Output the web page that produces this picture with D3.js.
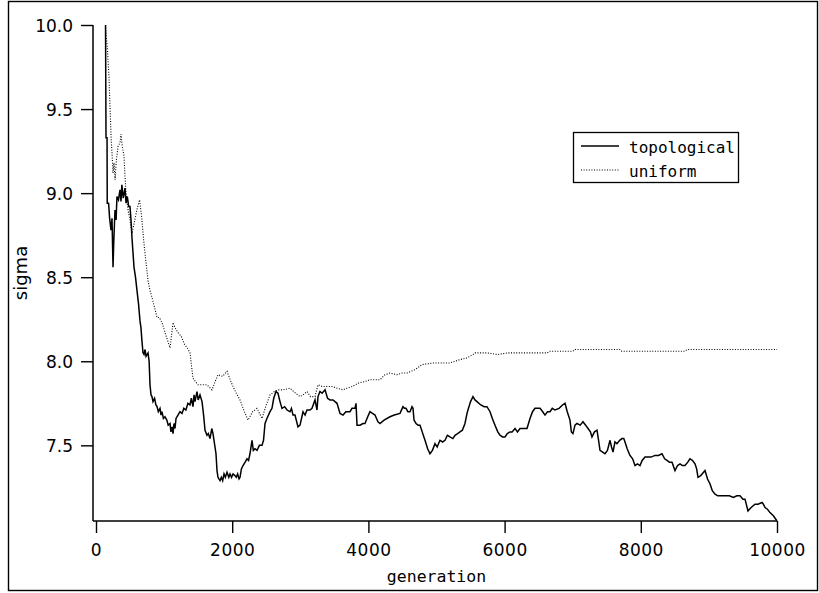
<!DOCTYPE html>
<html>
<head>
<meta charset="utf-8">
<script src="https://cdn.jsdelivr.net/npm/d3@7"></script>
<style>
  html, body { margin: 0; padding: 0; background: #fff; }
  svg { display: block; }
  .tick text { font-family: "DejaVu Sans", sans-serif; font-size: 17px; fill: #000; }
</style>
</head>
<body>
<svg id="chart" width="819" height="593"></svg>
<script>
// sigma over generations, one [generation, sigma] pair per sample
const topological = [
  [140,10.0],[147,9.33],[162,9.33],[165,8.94],[185,8.94],[200,8.85],[220,8.78],[235,8.85],[250,8.56],
  [260,8.70],[279,8.90],[295,8.84],[308,8.98],[330,8.96],[352,9.02],[367,8.95],[380,9.05],[400,8.97],
  [426,9.03],[441,8.94],[460,8.98],[480,8.92],[499,8.92],[514,8.84],[529,8.73],[558,8.56],[580,8.50],
  [602,8.42],[625,8.34],[646,8.24],[660,8.20],[675,8.12],[690,8.05],[705,8.04],[720,8.07],[735,8.03],
  [749,8.04],[764,8.05],[780,8.00],[793,7.86],[808,7.80],[822,7.79],[837,7.76],[860,7.78],[880,7.74],
  [896,7.73],[915,7.70],[940,7.72],[955,7.68],[969,7.70],[990,7.66],[1013,7.67],[1040,7.65],[1060,7.62],
  [1087,7.63],[1100,7.58],[1116,7.61],[1131,7.57],[1145,7.63],[1160,7.60],[1175,7.66],[1204,7.68],
  [1233,7.70],[1263,7.69],[1290,7.72],[1320,7.71],[1350,7.75],[1380,7.74],[1400,7.78],[1424,7.73],
  [1440,7.80],[1454,7.76],[1483,7.82],[1500,7.77],[1527,7.80],[1557,7.76],[1580,7.68],[1601,7.59],
  [1630,7.56],[1650,7.57],[1674,7.54],[1700,7.60],[1718,7.57],[1740,7.51],[1762,7.45],[1777,7.35],
  [1791,7.31],[1821,7.29],[1840,7.31],[1860,7.29],[1880,7.33],[1900,7.31],[1924,7.34],[1950,7.31],
  [1968,7.33],[1990,7.31],[2012,7.33],[2040,7.32],[2060,7.31],[2080,7.33],[2100,7.30],[2115,7.31],
  [2135,7.36],[2159,7.38],[2190,7.40],[2217,7.42],[2240,7.41],[2261,7.45],[2291,7.53],[2310,7.47],
  [2335,7.48],[2364,7.47],[2400,7.50],[2438,7.50],[2460,7.53],[2482,7.63],[2510,7.66],[2555,7.70],
  [2584,7.72],[2610,7.78],[2643,7.82],[2672,7.81],[2702,7.76],[2731,7.72],[2770,7.73],[2805,7.71],
  [2849,7.70],[2870,7.72],[2893,7.68],[2922,7.68],[2966,7.61],[2996,7.62],[3040,7.70],[3070,7.68],
  [3098,7.71],[3142,7.71],[3172,7.72],[3216,7.77],[3245,7.71],[3260,7.79],[3289,7.82],[3320,7.81],
  [3363,7.83],[3400,7.78],[3436,7.77],[3480,7.77],[3539,7.75],[3583,7.69],[3627,7.68],[3670,7.70],
  [3730,7.70],[3759,7.72],[3803,7.72],[3818,7.75],[3833,7.62],[3877,7.62],[3920,7.63],[3950,7.63],
  [3990,7.67],[4023,7.70],[4060,7.69],[4097,7.68],[4140,7.64],[4170,7.63],[4230,7.65],[4317,7.67],
  [4380,7.68],[4464,7.69],[4508,7.73],[4530,7.72],[4552,7.72],[4580,7.70],[4611,7.70],[4640,7.73],
  [4655,7.72],[4670,7.65],[4699,7.63],[4730,7.62],[4758,7.62],[4790,7.58],[4831,7.53],[4870,7.48],
  [4904,7.45],[4940,7.47],[4978,7.51],[5010,7.49],[5051,7.53],[5090,7.52],[5125,7.53],[5160,7.56],
  [5198,7.55],[5240,7.54],[5272,7.56],[5310,7.57],[5345,7.58],[5380,7.59],[5418,7.63],[5448,7.69],
  [5462,7.71],[5500,7.76],[5536,7.79],[5565,7.77],[5595,7.76],[5650,7.74],[5700,7.73],[5741,7.73],
  [5786,7.70],[5820,7.66],[5859,7.62],[5900,7.58],[5932,7.56],[5970,7.55],[6006,7.55],[6040,7.57],
  [6079,7.58],[6110,7.58],[6153,7.60],[6190,7.58],[6226,7.60],[6270,7.60],[6329,7.60],[6373,7.66],
  [6410,7.70],[6446,7.72],[6490,7.72],[6520,7.72],[6560,7.70],[6593,7.68],[6630,7.70],[6667,7.70],
  [6700,7.72],[6740,7.71],[6800,7.72],[6850,7.74],[6887,7.75],[6920,7.70],[6960,7.65],[6980,7.58],
  [7004,7.57],[7034,7.62],[7063,7.63],[7110,7.62],[7151,7.64],[7190,7.62],[7225,7.60],[7260,7.58],
  [7283,7.55],[7320,7.58],[7357,7.59],[7380,7.53],[7401,7.47],[7440,7.46],[7474,7.45],[7510,7.47],
  [7548,7.53],[7570,7.49],[7592,7.46],[7620,7.52],[7650,7.51],[7690,7.53],[7724,7.54],[7750,7.54],
  [7768,7.52],[7800,7.48],[7841,7.44],[7880,7.42],[7915,7.38],[7950,7.39],[7988,7.38],[8020,7.41],
  [8062,7.43],[8100,7.43],[8150,7.43],[8209,7.44],[8260,7.44],[8311,7.45],[8350,7.42],[8385,7.41],
  [8420,7.40],[8458,7.40],[8502,7.35],[8540,7.38],[8576,7.39],[8610,7.38],[8649,7.38],[8690,7.40],
  [8722,7.42],[8760,7.41],[8796,7.39],[8820,7.36],[8840,7.31],[8880,7.32],[8943,7.35],[8980,7.30],
  [9017,7.27],[9050,7.23],[9090,7.21],[9130,7.20],[9180,7.20],[9236,7.20],[9300,7.20],[9360,7.19],
  [9410,7.20],[9457,7.20],[9500,7.18],[9530,7.18],[9574,7.11],[9620,7.13],[9677,7.15],[9720,7.15],
  [9780,7.16],[9800,7.15],[9824,7.13],[9860,7.12],[9897,7.10],[9950,7.08],[10000,7.05]
];

const uniform = [
  [140,10.0],[150,9.93],[165,9.87],[191,9.69],[206,9.51],[225,9.30],[235,9.24],[250,9.12],[265,9.18],
  [280,9.08],[300,9.20],[325,9.28],[352,9.30],[367,9.35],[385,9.28],[411,9.22],[426,9.10],[441,9.00],
  [470,8.90],[499,8.84],[529,8.76],[560,8.82],[600,8.90],[640,8.96],[670,8.86],[700,8.72],[720,8.64],
  [764,8.48],[793,8.42],[822,8.38],[860,8.32],[896,8.26],[930,8.26],[969,8.23],[1030,8.15],[1087,8.08],
  [1131,8.23],[1160,8.20],[1204,8.17],[1250,8.15],[1300,8.10],[1340,8.08],[1380,8.05],[1424,7.90],
  [1460,7.88],[1498,7.86],[1560,7.86],[1630,7.86],[1703,7.83],[1750,7.88],[1791,7.92],[1860,7.91],
  [1924,7.94],[1970,7.89],[2012,7.85],[2060,7.81],[2115,7.77],[2170,7.71],[2232,7.65],[2300,7.70],
  [2364,7.72],[2438,7.66],[2500,7.74],[2555,7.80],[2620,7.82],[2672,7.83],[2750,7.83],[2849,7.84],
  [2930,7.81],[2996,7.79],[3040,7.80],[3098,7.82],[3150,7.79],[3216,7.79],[3260,7.86],[3320,7.85],
  [3400,7.85],[3465,7.85],[3540,7.84],[3627,7.83],[3686,7.84],[3759,7.85],[3850,7.87],[3950,7.88],
  [4023,7.89],[4097,7.89],[4170,7.89],[4244,7.92],[4317,7.93],[4420,7.92],[4500,7.93],[4567,7.93],
  [4684,7.95],[4787,7.98],[4949,7.99],[5100,7.99],[5198,7.99],[5345,8.01],[5448,8.02],[5536,8.04],
  [5565,8.05],[5650,8.05],[5741,8.05],[5900,8.04],[6050,8.05],[6270,8.05],[6490,8.05],[6623,8.05],
  [6667,8.06],[7004,8.06],[7034,8.07],[7694,8.07],[7720,8.06],[8649,8.06],[8680,8.07],[10000,8.07]
];

const xTicks = [0, 2000, 4000, 6000, 8000, 10000];
const yTicks = [7.5, 8.0, 8.5, 9.0, 9.5, 10.0];
const seriesNames = ["topological", "uniform"];

const svg = d3.select("#chart");

// outer frame
svg.append("rect")
  .attr("x", 8.5).attr("y", 1.5).attr("width", 809).attr("height", 589)
  .attr("fill", "none").attr("stroke", "#000").attr("stroke-width", 1.4);

const x = d3.scaleLinear().domain([0, 10000]).range([96, 777]);
const y = d3.scaleLinear().domain([7.05, 10.0]).range([521, 25]);

const axisX = 93; // vertical axis sits a little left of x = 0

// y axis
const gy = svg.append("g").attr("transform", `translate(${axisX},0)`)
  .call(d3.axisLeft(y).tickValues(yTicks).tickFormat(d3.format(".1f"))
    .tickSize(12).tickSizeOuter(0).tickPadding(8));
gy.select(".domain").remove();
gy.selectAll(".tick line").attr("stroke", "#000").attr("stroke-width", 1.4);
gy.selectAll(".tick text").attr("dy", "0.38em");

// x axis
const gx = svg.append("g").attr("transform", `translate(0,${y.range()[0]})`)
  .call(d3.axisBottom(x).tickValues(xTicks).tickFormat(d3.format("d"))
    .tickSize(12).tickSizeOuter(0).tickPadding(11));
gx.select(".domain").remove();
gx.selectAll(".tick line").attr("stroke", "#000").attr("stroke-width", 1.4);
gx.selectAll(".tick text").attr("dy", "0.71em").attr("letter-spacing", "0.5px");

// axis lines
svg.append("line")
  .attr("x1", axisX).attr("x2", axisX).attr("y1", y(10.0)).attr("y2", y.range()[0])
  .attr("stroke", "#000").attr("stroke-width", 1.5);
svg.append("line")
  .attr("x1", axisX).attr("x2", x(10000)).attr("y1", y.range()[0]).attr("y2", y.range()[0])
  .attr("stroke", "#000").attr("stroke-width", 1.5);

// axis titles
svg.append("text")
  .attr("transform", `translate(27,273) rotate(-90)`)
  .attr("text-anchor", "middle")
  .style("font-family", "'DejaVu Sans', sans-serif").style("font-size", "18px")
  .text("sigma");
svg.append("text")
  .attr("x", (x(0) + x(10000)) / 2).attr("y", 582)
  .attr("text-anchor", "middle")
  .style("font-family", "'DejaVu Sans Mono', monospace").style("font-size", "16.5px")
  .text("generation");

// series
const line = d3.line().x(d => x(d[0])).y(d => y(d[1])).curve(d3.curveLinear);

svg.append("path").datum(uniform)
  .attr("fill", "none").attr("stroke", "#000").attr("stroke-width", 1.1)
  .attr("stroke-dasharray", "1,1.6").attr("d", line);

svg.append("path").datum(topological)
  .attr("fill", "none").attr("stroke", "#000").attr("stroke-width", 1.5)
  .attr("stroke-linejoin", "miter").attr("d", line);

// legend
const legend = svg.append("g");
legend.append("rect")
  .attr("x", 573.5).attr("y", 132.5).attr("width", 165).attr("height", 50)
  .attr("fill", "#fff").attr("stroke", "#000").attr("stroke-width", 1.3);
const styles = [{ dash: null, w: 1.4 }, { dash: "1,1.6", w: 1.1 }];
seriesNames.forEach((name, i) => {
  const ly = 146 + i * 24;
  legend.append("line")
    .attr("x1", 581).attr("x2", 619).attr("y1", ly).attr("y2", ly)
    .attr("stroke", "#000").attr("stroke-width", styles[i].w)
    .attr("stroke-dasharray", styles[i].dash);
  legend.append("text")
    .attr("x", 629).attr("y", ly + 7)
    .style("font-family", "'DejaVu Sans Mono', monospace").style("font-size", "16px")
    .text(name);
});
</script>
</body>
</html>
